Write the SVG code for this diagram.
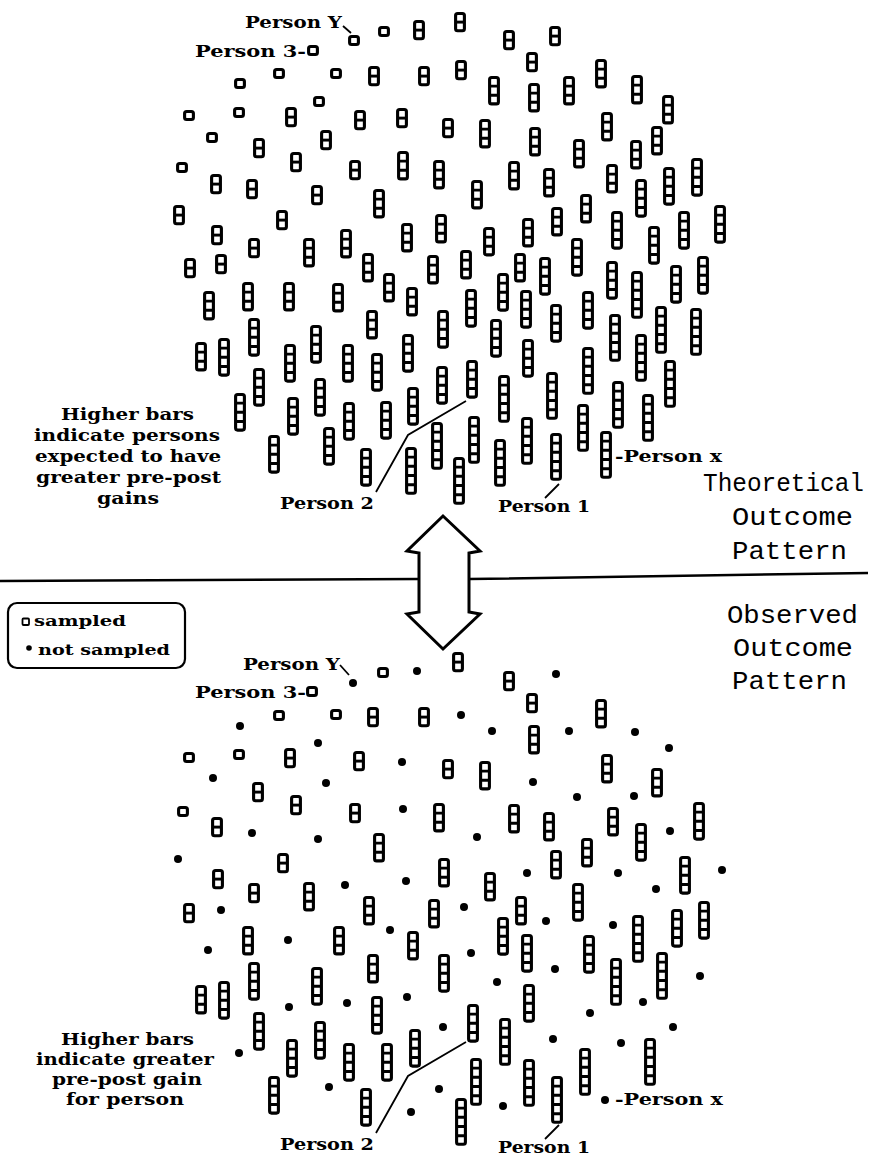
<svg xmlns="http://www.w3.org/2000/svg" width="874" height="1155" viewBox="0 0 874 1155">
<style>
.bar rect{fill:#fff;stroke:#000;stroke-width:3.1}
.bar path{fill:none;stroke:#000;stroke-width:2.9}
.lbl{font-family:"DejaVu Serif","Liberation Serif",serif;font-weight:bold;font-size:17px;fill:#000}
.leg{font-family:"DejaVu Serif","Liberation Serif",serif;font-weight:bold;font-size:15px;fill:#000}
.ttl{font-family:"Liberation Mono","DejaVu Sans Mono",monospace;font-size:26px;fill:#000}
.ln{fill:none;stroke:#000;stroke-width:1.8}
.sep{fill:none;stroke:#000;stroke-width:2.5}
</style>
<defs>
<g id="b1" class="bar"><rect x="-4.4" y="1.5" width="8.8" height="8" rx="2"/></g>
<g id="b2" class="bar"><rect x="-4.4" y="1.5" width="8.8" height="17.2" rx="2"/><path d="M-4.4 10.1H4.4"/></g>
<g id="b3" class="bar"><rect x="-4.4" y="1.5" width="8.8" height="26.4" rx="2"/><path d="M-4.4 10.1H4.4M-4.4 19.3H4.4"/></g>
<g id="b4" class="bar"><rect x="-4.4" y="1.5" width="8.8" height="35.6" rx="2"/><path d="M-4.4 10.1H4.4M-4.4 19.3H4.4M-4.4 28.5H4.4"/></g>
<g id="b5" class="bar"><rect x="-4.4" y="1.5" width="8.8" height="44.8" rx="2"/><path d="M-4.4 10.1H4.4M-4.4 19.3H4.4M-4.4 28.5H4.4M-4.4 37.7H4.4"/></g>
<circle id="dt" r="4" fill="#000"/>
</defs>
<g id="divider">
<path class="sep" d="M0 581L419 579M469 579L868 573"/>
<polygon points="443,516 480,551 469,553 469,612 480,614 443,649 407,614 419,612 419,553 407,551" fill="#fff" stroke="#000" stroke-width="3" stroke-linejoin="miter"/>
</g>
<g id="theoretical">
<g id="t1"><use href="#b1" x="354" y="35"/></g>
<g id="t2"><use href="#b1" x="384" y="26"/></g>
<g id="t3"><use href="#b2" x="419" y="20"/></g>
<g id="t4"><use href="#b2" x="460" y="12"/></g>
<g id="t5"><use href="#b2" x="509" y="30"/></g>
<g id="t6"><use href="#b2" x="555" y="26"/></g>
<g id="t7"><use href="#b1" x="313" y="45"/></g>
<g id="t8"><use href="#b1" x="240" y="78"/></g>
<g id="t9"><use href="#b1" x="279" y="68"/></g>
<g id="t10"><use href="#b1" x="336" y="68"/></g>
<g id="t11"><use href="#b2" x="374" y="66"/></g>
<g id="t12"><use href="#b2" x="424" y="66"/></g>
<g id="t13"><use href="#b2" x="532" y="52"/></g>
<g id="t14"><use href="#b2" x="461" y="60"/></g>
<g id="t15"><use href="#b3" x="601" y="59"/></g>
<g id="t16"><use href="#b3" x="494" y="76"/></g>
<g id="t17"><use href="#b3" x="534" y="83"/></g>
<g id="t18"><use href="#b3" x="569" y="76"/></g>
<g id="t19"><use href="#b3" x="637" y="75"/></g>
<g id="t20"><use href="#b3" x="668" y="95"/></g>
<g id="t21"><use href="#b1" x="189" y="110"/></g>
<g id="t22"><use href="#b1" x="239" y="107"/></g>
<g id="t23"><use href="#b2" x="291" y="107"/></g>
<g id="t24"><use href="#b1" x="319" y="96"/></g>
<g id="t25"><use href="#b2" x="360" y="110"/></g>
<g id="t26"><use href="#b2" x="402" y="108"/></g>
<g id="t27"><use href="#b2" x="448" y="118"/></g>
<g id="t28"><use href="#b3" x="485" y="119"/></g>
<g id="t29"><use href="#b3" x="535" y="127"/></g>
<g id="t30"><use href="#b3" x="607" y="112"/></g>
<g id="t31"><use href="#b3" x="657" y="126"/></g>
<g id="t32"><use href="#b1" x="212" y="132"/></g>
<g id="t33"><use href="#b2" x="259" y="138"/></g>
<g id="t34"><use href="#b2" x="326" y="130"/></g>
<g id="t35"><use href="#b3" x="579" y="139"/></g>
<g id="t36"><use href="#b3" x="636" y="140"/></g>
<g id="t37"><use href="#b1" x="182" y="162"/></g>
<g id="t38"><use href="#b2" x="296" y="152"/></g>
<g id="t39"><use href="#b2" x="355" y="160"/></g>
<g id="t40"><use href="#b3" x="403" y="151"/></g>
<g id="t41"><use href="#b3" x="439" y="160"/></g>
<g id="t42"><use href="#b3" x="514" y="161"/></g>
<g id="t43"><use href="#b3" x="549" y="168"/></g>
<g id="t44"><use href="#b3" x="612" y="164"/></g>
<g id="t45"><use href="#b4" x="697" y="158"/></g>
<g id="t46"><use href="#b4" x="669" y="167"/></g>
<g id="t47"><use href="#b2" x="216" y="174"/></g>
<g id="t48"><use href="#b2" x="252" y="179"/></g>
<g id="t49"><use href="#b2" x="317" y="185"/></g>
<g id="t50"><use href="#b3" x="477" y="180"/></g>
<g id="t51"><use href="#b4" x="641" y="179"/></g>
<g id="t52"><use href="#b3" x="379" y="189"/></g>
<g id="t53"><use href="#b3" x="586" y="194"/></g>
<g id="t54"><use href="#b2" x="179" y="205"/></g>
<g id="t55"><use href="#b2" x="282" y="210"/></g>
<g id="t56"><use href="#b3" x="441" y="214"/></g>
<g id="t57"><use href="#b3" x="557" y="207"/></g>
<g id="t58"><use href="#b4" x="720" y="205"/></g>
<g id="t59"><use href="#b2" x="217" y="225"/></g>
<g id="t60"><use href="#b2" x="254" y="238"/></g>
<g id="t61"><use href="#b3" x="309" y="238"/></g>
<g id="t62"><use href="#b3" x="346" y="229"/></g>
<g id="t63"><use href="#b3" x="407" y="223"/></g>
<g id="t64"><use href="#b3" x="489" y="227"/></g>
<g id="t65"><use href="#b3" x="528" y="218"/></g>
<g id="t66"><use href="#b4" x="577" y="238"/></g>
<g id="t67"><use href="#b4" x="617" y="211"/></g>
<g id="t68"><use href="#b4" x="654" y="226"/></g>
<g id="t69"><use href="#b4" x="684" y="211"/></g>
<g id="t70"><use href="#b2" x="190" y="258"/></g>
<g id="t71"><use href="#b2" x="221" y="254"/></g>
<g id="t72"><use href="#b3" x="368" y="253"/></g>
<g id="t73"><use href="#b3" x="433" y="255"/></g>
<g id="t74"><use href="#b3" x="466" y="250"/></g>
<g id="t75"><use href="#b3" x="520" y="253"/></g>
<g id="t76"><use href="#b4" x="545" y="257"/></g>
<g id="t77"><use href="#b4" x="612" y="261"/></g>
<g id="t78"><use href="#b5" x="637" y="271"/></g>
<g id="t79"><use href="#b4" x="676" y="265"/></g>
<g id="t80"><use href="#b4" x="703" y="256"/></g>
<g id="t81"><use href="#b3" x="209" y="291"/></g>
<g id="t82"><use href="#b3" x="248" y="282"/></g>
<g id="t83"><use href="#b3" x="289" y="282"/></g>
<g id="t84"><use href="#b3" x="338" y="283"/></g>
<g id="t85"><use href="#b3" x="389" y="273"/></g>
<g id="t86"><use href="#b3" x="412" y="287"/></g>
<g id="t87"><use href="#b4" x="503" y="273"/></g>
<g id="t88"><use href="#b4" x="471" y="289"/></g>
<g id="t89"><use href="#b4" x="526" y="290"/></g>
<g id="t90"><use href="#b4" x="588" y="291"/></g>
<g id="t91"><use href="#b3" x="372" y="310"/></g>
<g id="t92"><use href="#b4" x="443" y="310"/></g>
<g id="t93"><use href="#b4" x="254" y="318"/></g>
<g id="t94"><use href="#b4" x="316" y="325"/></g>
<g id="t95"><use href="#b4" x="556" y="304"/></g>
<g id="t96"><use href="#b5" x="615" y="314"/></g>
<g id="t97"><use href="#b5" x="661" y="306"/></g>
<g id="t98"><use href="#b5" x="696" y="308"/></g>
<g id="t99"><use href="#b4" x="496" y="319"/></g>
<g id="t100"><use href="#b3" x="201" y="342"/></g>
<g id="t101"><use href="#b4" x="224" y="338"/></g>
<g id="t102"><use href="#b4" x="290" y="344"/></g>
<g id="t103"><use href="#b4" x="348" y="344"/></g>
<g id="t104"><use href="#b4" x="377" y="353"/></g>
<g id="t105"><use href="#b4" x="408" y="334"/></g>
<g id="t106"><use href="#b4" x="528" y="339"/></g>
<g id="t107"><use href="#b5" x="641" y="334"/></g>
<g id="t108"><use href="#b4" x="442" y="366"/></g>
<g id="t109"><use href="#b4" x="472" y="360"/></g>
<g id="t110"><use href="#b5" x="588" y="347"/></g>
<g id="t111"><use href="#b5" x="670" y="360"/></g>
<g id="t112"><use href="#b4" x="259" y="368"/></g>
<g id="t113"><use href="#b4" x="320" y="378"/></g>
<g id="t114"><use href="#b5" x="504" y="375"/></g>
<g id="t115"><use href="#b5" x="552" y="372"/></g>
<g id="t116"><use href="#b5" x="618" y="381"/></g>
<g id="t117"><use href="#b5" x="648" y="394"/></g>
<g id="t118"><use href="#b4" x="240" y="393"/></g>
<g id="t119"><use href="#b4" x="293" y="397"/></g>
<g id="t120"><use href="#b4" x="349" y="402"/></g>
<g id="t121"><use href="#b4" x="386" y="401"/></g>
<g id="t122"><use href="#b4" x="413" y="387"/></g>
<g id="t123"><use href="#b5" x="583" y="404"/></g>
<g id="t124"><use href="#b5" x="437" y="422"/></g>
<g id="t125"><use href="#b5" x="474" y="416"/></g>
<g id="t126"><use href="#b5" x="527" y="417"/></g>
<g id="t127"><use href="#b4" x="329" y="427"/></g>
<g id="t128"><use href="#b4" x="274" y="435"/></g>
<g id="t129"><use href="#b4" x="366" y="448"/></g>
<g id="t130"><use href="#b5" x="411" y="447"/></g>
<g id="t131"><use href="#b5" x="606" y="431"/></g>
<g id="t132"><use href="#b5" x="500" y="439"/></g>
<g id="t133"><use href="#b5" x="556" y="433"/></g>
<g id="t134"><use href="#b5" x="459" y="457"/></g>
</g>
<g id="observed">
<g id="o1"><use href="#dt" x="353" y="683"/></g>
<g id="o2"><use href="#b1" x="383" y="667"/></g>
<g id="o3"><use href="#dt" x="417" y="671"/></g>
<g id="o4"><use href="#b2" x="458" y="652"/></g>
<g id="o5"><use href="#b2" x="509" y="671"/></g>
<g id="o6"><use href="#dt" x="556" y="674"/></g>
<g id="o7"><use href="#b1" x="312" y="686"/></g>
<g id="o8"><use href="#dt" x="240" y="726"/></g>
<g id="o9"><use href="#b1" x="279" y="710"/></g>
<g id="o10"><use href="#b1" x="336" y="709"/></g>
<g id="o11"><use href="#b2" x="373" y="707"/></g>
<g id="o12"><use href="#b2" x="424" y="707"/></g>
<g id="o13"><use href="#b2" x="532" y="693"/></g>
<g id="o14"><use href="#dt" x="461" y="715"/></g>
<g id="o15"><use href="#b3" x="601" y="699"/></g>
<g id="o16"><use href="#dt" x="492" y="731"/></g>
<g id="o17"><use href="#b3" x="534" y="725"/></g>
<g id="o18"><use href="#dt" x="569" y="731"/></g>
<g id="o19"><use href="#dt" x="635" y="732"/></g>
<g id="o20"><use href="#dt" x="669" y="748"/></g>
<g id="o21"><use href="#b1" x="189" y="752"/></g>
<g id="o22"><use href="#b1" x="239" y="749"/></g>
<g id="o23"><use href="#b2" x="290" y="748"/></g>
<g id="o24"><use href="#dt" x="318" y="743"/></g>
<g id="o25"><use href="#b2" x="359" y="751"/></g>
<g id="o26"><use href="#dt" x="402" y="762"/></g>
<g id="o27"><use href="#b2" x="448" y="759"/></g>
<g id="o28"><use href="#b3" x="485" y="761"/></g>
<g id="o29"><use href="#dt" x="533" y="782"/></g>
<g id="o30"><use href="#b3" x="607" y="754"/></g>
<g id="o31"><use href="#b3" x="657" y="768"/></g>
<g id="o32"><use href="#dt" x="213" y="778"/></g>
<g id="o33"><use href="#b2" x="258" y="782"/></g>
<g id="o34"><use href="#dt" x="326" y="783"/></g>
<g id="o35"><use href="#dt" x="577" y="797"/></g>
<g id="o36"><use href="#dt" x="634" y="796"/></g>
<g id="o37"><use href="#b1" x="183" y="806"/></g>
<g id="o38"><use href="#b2" x="296" y="795"/></g>
<g id="o39"><use href="#b2" x="355" y="803"/></g>
<g id="o40"><use href="#dt" x="403" y="809"/></g>
<g id="o41"><use href="#b3" x="439" y="803"/></g>
<g id="o42"><use href="#b3" x="514" y="804"/></g>
<g id="o43"><use href="#b3" x="549" y="812"/></g>
<g id="o44"><use href="#b3" x="613" y="807"/></g>
<g id="o45"><use href="#b4" x="699" y="802"/></g>
<g id="o46"><use href="#dt" x="670" y="831"/></g>
<g id="o47"><use href="#b2" x="217" y="817"/></g>
<g id="o48"><use href="#dt" x="252" y="833"/></g>
<g id="o49"><use href="#dt" x="318" y="839"/></g>
<g id="o50"><use href="#dt" x="477" y="837"/></g>
<g id="o51"><use href="#b4" x="641" y="823"/></g>
<g id="o52"><use href="#b3" x="379" y="833"/></g>
<g id="o53"><use href="#b3" x="587" y="838"/></g>
<g id="o54"><use href="#dt" x="178" y="859"/></g>
<g id="o55"><use href="#b2" x="283" y="853"/></g>
<g id="o56"><use href="#b3" x="444" y="858"/></g>
<g id="o57"><use href="#b3" x="556" y="850"/></g>
<g id="o58"><use href="#dt" x="722" y="870"/></g>
<g id="o59"><use href="#b2" x="218" y="869"/></g>
<g id="o60"><use href="#b2" x="254" y="883"/></g>
<g id="o61"><use href="#b3" x="309" y="882"/></g>
<g id="o62"><use href="#dt" x="345" y="885"/></g>
<g id="o63"><use href="#dt" x="406" y="881"/></g>
<g id="o64"><use href="#b3" x="490" y="872"/></g>
<g id="o65"><use href="#dt" x="527" y="873"/></g>
<g id="o66"><use href="#b4" x="578" y="883"/></g>
<g id="o67"><use href="#dt" x="618" y="873"/></g>
<g id="o68"><use href="#dt" x="656" y="889"/></g>
<g id="o69"><use href="#b4" x="685" y="856"/></g>
<g id="o70"><use href="#b2" x="189" y="903"/></g>
<g id="o71"><use href="#dt" x="221" y="910"/></g>
<g id="o72"><use href="#b3" x="369" y="896"/></g>
<g id="o73"><use href="#b3" x="434" y="899"/></g>
<g id="o74"><use href="#dt" x="464" y="907"/></g>
<g id="o75"><use href="#b3" x="521" y="896"/></g>
<g id="o76"><use href="#dt" x="546" y="921"/></g>
<g id="o77"><use href="#dt" x="613" y="925"/></g>
<g id="o78"><use href="#b5" x="638" y="915"/></g>
<g id="o79"><use href="#b4" x="677" y="909"/></g>
<g id="o80"><use href="#b4" x="704" y="901"/></g>
<g id="o81"><use href="#dt" x="208" y="950"/></g>
<g id="o82"><use href="#b3" x="248" y="926"/></g>
<g id="o83"><use href="#dt" x="288" y="940"/></g>
<g id="o84"><use href="#b3" x="339" y="926"/></g>
<g id="o85"><use href="#dt" x="390" y="930"/></g>
<g id="o86"><use href="#b3" x="413" y="931"/></g>
<g id="o87"><use href="#b4" x="503" y="917"/></g>
<g id="o88"><use href="#dt" x="471" y="953"/></g>
<g id="o89"><use href="#b4" x="527" y="934"/></g>
<g id="o90"><use href="#b4" x="589" y="935"/></g>
<g id="o91"><use href="#b3" x="373" y="954"/></g>
<g id="o92"><use href="#b4" x="444" y="954"/></g>
<g id="o93"><use href="#b4" x="254" y="962"/></g>
<g id="o94"><use href="#b4" x="317" y="967"/></g>
<g id="o95"><use href="#dt" x="555" y="969"/></g>
<g id="o96"><use href="#b5" x="616" y="958"/></g>
<g id="o97"><use href="#b5" x="662" y="952"/></g>
<g id="o98"><use href="#dt" x="700" y="976"/></g>
<g id="o99"><use href="#dt" x="497" y="982"/></g>
<g id="o100"><use href="#b3" x="201" y="985"/></g>
<g id="o101"><use href="#b4" x="224" y="981"/></g>
<g id="o102"><use href="#dt" x="289" y="1007"/></g>
<g id="o103"><use href="#dt" x="347" y="1003"/></g>
<g id="o104"><use href="#b4" x="377" y="996"/></g>
<g id="o105"><use href="#dt" x="407" y="997"/></g>
<g id="o106"><use href="#b4" x="529" y="984"/></g>
<g id="o107"><use href="#dt" x="643" y="1002"/></g>
<g id="o108"><use href="#dt" x="443" y="1027"/></g>
<g id="o109"><use href="#b4" x="473" y="1004"/></g>
<g id="o110"><use href="#dt" x="590" y="1013"/></g>
<g id="o111"><use href="#dt" x="673" y="1027"/></g>
<g id="o112"><use href="#b4" x="259" y="1012"/></g>
<g id="o113"><use href="#b4" x="320" y="1021"/></g>
<g id="o114"><use href="#b5" x="505" y="1018"/></g>
<g id="o115"><use href="#dt" x="553" y="1039"/></g>
<g id="o116"><use href="#dt" x="621" y="1043"/></g>
<g id="o117"><use href="#b5" x="650" y="1038"/></g>
<g id="o118"><use href="#dt" x="239" y="1053"/></g>
<g id="o119"><use href="#b4" x="292" y="1039"/></g>
<g id="o120"><use href="#b4" x="349" y="1043"/></g>
<g id="o121"><use href="#b4" x="387" y="1043"/></g>
<g id="o122"><use href="#b4" x="415" y="1029"/></g>
<g id="o123"><use href="#b5" x="585" y="1048"/></g>
<g id="o124"><use href="#dt" x="439" y="1089"/></g>
<g id="o125"><use href="#b5" x="476" y="1058"/></g>
<g id="o126"><use href="#b5" x="529" y="1059"/></g>
<g id="o127"><use href="#dt" x="329" y="1087"/></g>
<g id="o128"><use href="#b4" x="274" y="1076"/></g>
<g id="o129"><use href="#b4" x="366" y="1088"/></g>
<g id="o130"><use href="#dt" x="411" y="1112"/></g>
<g id="o131"><use href="#dt" x="605" y="1100"/></g>
<g id="o132"><use href="#dt" x="503" y="1106"/></g>
<g id="o133"><use href="#b5" x="557" y="1076"/></g>
<g id="o134"><use href="#b5" x="461" y="1098"/></g>
</g>
<g id="connectors">
<path class="ln" d="M343 26L351 33"/>
<path class="ln" d="M376 492L408 435L466 401"/>
<path class="ln" d="M559 484L545 498"/>
<path class="ln" d="M340 665L349 675"/>
<path class="ln" d="M376 1133L408 1076L466 1042"/>
<path class="ln" d="M559 1125L545 1139"/>
</g>
<g id="legend">
<rect x="8" y="603" width="177" height="65" rx="9" fill="none" stroke="#000" stroke-width="2.2"/>
<rect x="22.5" y="618.5" width="6.5" height="6.5" rx="1" fill="#fff" stroke="#000" stroke-width="1.8"/>
<circle cx="29" cy="648" r="2.8" fill="#000"/>
<text class="leg" x="34" y="626" textLength="92" lengthAdjust="spacingAndGlyphs">sampled</text>
<text class="leg" x="38" y="655" textLength="132" lengthAdjust="spacingAndGlyphs">not sampled</text>
</g>
<g id="labels">
<text class="lbl" x="245" y="28" textLength="97" lengthAdjust="spacingAndGlyphs">Person Y</text>
<text class="lbl" x="195" y="57" textLength="111" lengthAdjust="spacingAndGlyphs">Person 3-</text>
<text class="lbl" x="615" y="462" textLength="107" lengthAdjust="spacingAndGlyphs">-Person x</text>
<text class="lbl" x="280" y="509" textLength="94" lengthAdjust="spacingAndGlyphs">Person 2</text>
<text class="lbl" x="498" y="512" textLength="92" lengthAdjust="spacingAndGlyphs">Person 1</text>
<text class="lbl" x="61" y="420" textLength="133" lengthAdjust="spacingAndGlyphs">Higher bars</text>
<text class="lbl" x="34" y="441" textLength="186" lengthAdjust="spacingAndGlyphs">indicate persons</text>
<text class="lbl" x="35" y="462" textLength="186" lengthAdjust="spacingAndGlyphs">expected to have</text>
<text class="lbl" x="36" y="483" textLength="185" lengthAdjust="spacingAndGlyphs">greater pre-post</text>
<text class="lbl" x="97" y="504" textLength="62" lengthAdjust="spacingAndGlyphs">gains</text>
<text class="lbl" x="243" y="670" textLength="97" lengthAdjust="spacingAndGlyphs">Person Y</text>
<text class="lbl" x="195" y="698" textLength="111" lengthAdjust="spacingAndGlyphs">Person 3-</text>
<text class="lbl" x="615" y="1105" textLength="108" lengthAdjust="spacingAndGlyphs">-Person x</text>
<text class="lbl" x="280" y="1150" textLength="94" lengthAdjust="spacingAndGlyphs">Person 2</text>
<text class="lbl" x="498" y="1153" textLength="92" lengthAdjust="spacingAndGlyphs">Person 1</text>
<text class="lbl" x="61" y="1045" textLength="133" lengthAdjust="spacingAndGlyphs">Higher bars</text>
<text class="lbl" x="36" y="1065" textLength="178" lengthAdjust="spacingAndGlyphs">indicate greater</text>
<text class="lbl" x="52" y="1085" textLength="150" lengthAdjust="spacingAndGlyphs">pre-post gain</text>
<text class="lbl" x="66" y="1105" textLength="118" lengthAdjust="spacingAndGlyphs">for person</text>
<text class="ttl" x="703" y="491" textLength="161" lengthAdjust="spacingAndGlyphs">Theoretical</text>
<text class="ttl" x="732" y="525" textLength="121" lengthAdjust="spacingAndGlyphs">Outcome</text>
<text class="ttl" x="732" y="559" textLength="115" lengthAdjust="spacingAndGlyphs">Pattern</text>
<text class="ttl" x="727" y="623" textLength="131" lengthAdjust="spacingAndGlyphs">Observed</text>
<text class="ttl" x="733" y="656" textLength="120" lengthAdjust="spacingAndGlyphs">Outcome</text>
<text class="ttl" x="732" y="689" textLength="115" lengthAdjust="spacingAndGlyphs">Pattern</text>
</g>
</svg>
